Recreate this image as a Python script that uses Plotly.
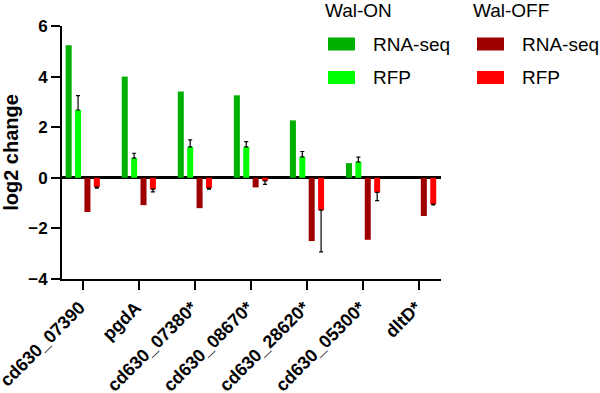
import plotly.graph_objects as go

categories = ["cd630_07390", "pgdA", "cd630_07380*", "cd630_08670*",
              "cd630_28620*", "cd630_05300*", "dltD*"]
on_rnaseq = [5.24, 4.0, 3.41, 3.26, 2.27, 0.58, None]
on_rfp = [2.68, 0.78, 1.22, 1.22, 0.83, 0.63, None]
on_rfp_err = [0.57, 0.19, 0.28, 0.21, 0.21, 0.19, None]
off_rnaseq = [-1.35, -1.08, -1.2, -0.38, -2.5, -2.45, -1.51]
off_rfp = [-0.37, -0.45, -0.41, -0.12, -1.28, -0.58, -1.04]
off_rfp_err = [0.04, 0.11, 0.04, 0.14, 1.65, 0.32, 0.03]

C_DG = "#00B000"
C_LG = "#00FF00"
C_DR = "#9E0000"
C_R = "#FF0000"

FONT = "Arial, 'Liberation Sans', sans-serif"

fig = go.Figure()
fig.add_trace(go.Bar(x=categories, y=on_rnaseq, marker_color=C_DG,
                     marker_line_width=0, name="Wal-ON RNA-seq"))
fig.add_trace(go.Bar(x=categories, y=on_rfp, marker_color=C_LG,
                     marker_line_width=0, name="Wal-ON RFP",
                     error_y=dict(type="data", symmetric=False, array=on_rfp_err,
                                  arrayminus=[0] * len(on_rfp_err),
                                  color="black", thickness=1.2, width=2)))
fig.add_trace(go.Bar(x=categories, y=off_rnaseq, marker_color=C_DR,
                     marker_line_width=0, name="Wal-OFF RNA-seq"))
fig.add_trace(go.Bar(x=categories, y=off_rfp, marker_color=C_R,
                     marker_line_width=0, name="Wal-OFF RFP",
                     error_y=dict(type="data", symmetric=False,
                                  array=[0] * len(off_rfp_err),
                                  arrayminus=off_rfp_err,
                                  color="black", thickness=1.2, width=2)))

W, H = 600, 393
# plot area in pixels
L, R, T, B = 62, 441, 26, 279


def px(x):
    return (x - L) / (R - L)


def py(y):
    return (B - y) / (B - T)


shapes = []
annotations = []
legend_groups = [
    ("Wal-ON", 323, 328, [("RNA-seq", C_DG), ("RFP", C_LG)]),
    ("Wal-OFF", 471, 477, [("RNA-seq", C_DR), ("RFP", C_R)]),
]
row_y = [44, 77.5]
for title, tx, sx, items in legend_groups:
    annotations.append(dict(x=px(tx), y=py(11), xref="paper", yref="paper",
                            text=title, showarrow=False, xanchor="left",
                            yanchor="middle",
                            font=dict(family=FONT, size=19, color="black")))
    for (lab, col), yy in zip(items, row_y):
        shapes.append(dict(type="rect", xref="paper", yref="paper",
                           x0=px(sx), x1=px(sx + 27), y0=py(yy - 6.5),
                           y1=py(yy + 6.5), fillcolor=col,
                           line=dict(width=0)))
        annotations.append(dict(x=px(sx + 43), y=py(yy), xref="paper",
                                yref="paper", text=lab, showarrow=False,
                                xanchor="left", yanchor="middle",
                                font=dict(family=FONT, size=19, color="black")))

fig.update_layout(
    width=W, height=H,
    margin=dict(l=L, r=W - R, t=T, b=H - B, pad=0, autoexpand=False),
    paper_bgcolor="white", plot_bgcolor="white",
    barmode="group", bargap=0.33, bargroupgap=0.36,
    showlegend=False,
    shapes=shapes, annotations=annotations,
    font=dict(family=FONT, color="black"),
)
fig.update_xaxes(
    range=[-0.37, 6.39], showgrid=False, showline=True, linecolor="black",
    linewidth=2, ticks="outside", ticklen=9, tickwidth=2, tickcolor="black",
    tickangle=-45, automargin=False, ticklabelshift=-3,
    tickfont=dict(family=FONT, size=18, weight="bold", color="black"),
)
fig.update_yaxes(
    range=[-4, 6], dtick=2, tick0=0, showgrid=False, showline=True,
    linecolor="black", linewidth=2, ticks="outside", ticklen=9, tickwidth=2,
    tickcolor="black", zeroline=True, zerolinecolor="black", zerolinewidth=2.5,
    automargin=False,
    tickfont=dict(family=FONT, size=17, weight="bold", color="black"),
    title=dict(text="log2 change", standoff=10,
               font=dict(family=FONT, size=20, weight="bold", color="black")),
)

fig.write_html("out.html",
               config={"displayModeBar": False},
               post_script="document.body.style.margin='0';")
